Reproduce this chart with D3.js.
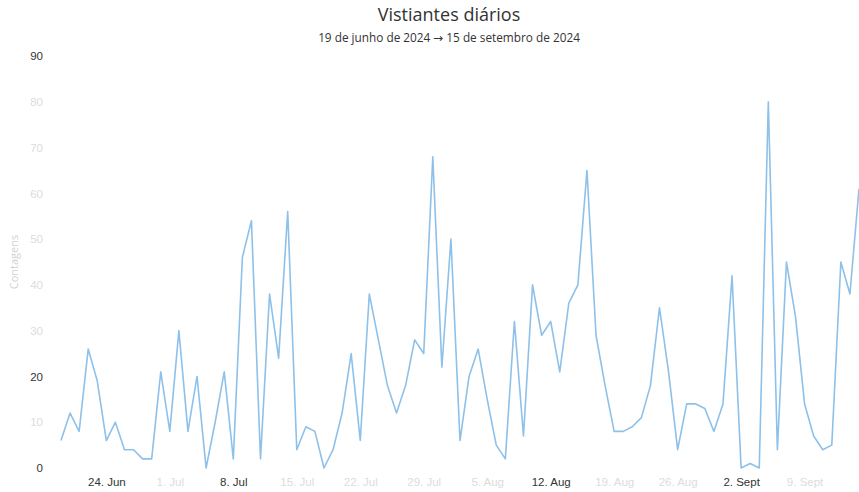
<!DOCTYPE html>
<html>
<head>
<meta charset="utf-8">
<script src="https://cdn.jsdelivr.net/npm/d3@7"></script>
<style>
  body { margin: 0; background: #fff; }
  svg { display: block; font-family: "Open Sans", "DejaVu Sans", sans-serif; }
</style>
</head>
<body>
<svg id="chart" width="859" height="492"></svg>
<script>
// daily visitor counts, 19 Jun 2024 .. 15 Sep 2024
const START_DATE = "2024-06-19";
const visits = [
  6, 12, 8, 26, 19, 6, 10, 4, 4, 2,
  2, 21, 8, 30, 8, 20, 0, 10, 21, 2,
  46, 54, 2, 38, 24, 56, 4, 9, 8, 0,
  4, 12, 25, 6, 38, 28, 18, 12, 18, 28,
  25, 68, 22, 50, 6, 20, 26, 15, 5, 2,
  32, 7, 40, 29, 32, 21, 36, 40, 65, 29,
  18, 8, 8, 9, 11, 18, 35, 21, 4, 14,
  14, 13, 8, 14, 42, 0, 1, 0, 80, 4,
  45, 33, 14, 7, 4, 5, 45, 38, 61
];

const xTickDates = ["2024-06-24", "2024-07-01", "2024-07-08", "2024-07-15", "2024-07-22", "2024-07-29",
  "2024-08-05", "2024-08-12", "2024-08-19", "2024-08-26", "2024-09-02", "2024-09-09"];
const xTickLabels = ["24. Jun", "1. Jul", "8. Jul", "15. Jul", "22. Jul", "29. Jul",
  "5. Aug", "12. Aug", "19. Aug", "26. Aug", "2. Sept", "9. Sept"];
const xStrong = ["24. Jun", "8. Jul", "12. Aug", "2. Sept"];

const yTicks = [0, 10, 20, 30, 40, 50, 60, 70, 80, 90];
const yStrong = [0, 20, 90];

const TITLE = "Vistiantes diários";
const SUBTITLE = "19 de junho de 2024 → 15 de setembro de 2024";
const Y_TITLE = "Contagens";

const PLOT = { left: 61, right: 859, top: 56, bottom: 468 };
const DARK = "#333333";
const FAINT = "#dcdcdc";

const start = d3.utcParse("%Y-%m-%d")(START_DATE);
const data = visits.map((v, i) => ({ date: d3.utcDay.offset(start, i), value: v }));

const svg = d3.select("#chart");

const x = d3.scaleUtc()
  .domain([data[0].date, data[data.length - 1].date])
  .range([PLOT.left, PLOT.right]);

const y = d3.scaleLinear()
  .domain([0, 90])
  .range([PLOT.bottom, PLOT.top]);

// titles
svg.append("text")
  .attr("x", 449).attr("y", 21)
  .attr("text-anchor", "middle")
  .attr("font-size", 18)
  .attr("font-weight", 500)
  .attr("fill", DARK)
  .text(TITLE);

svg.append("text")
  .attr("x", 449).attr("y", 42)
  .attr("text-anchor", "middle")
  .attr("font-size", 11.8)
  .attr("fill", DARK)
  .text(SUBTITLE);

// y axis
const yAxis = d3.axisLeft(y).tickValues(yTicks).tickSize(0).tickPadding(0);
const gy = svg.append("g")
  .attr("transform", `translate(43,0)`)
  .call(yAxis);
gy.select(".domain").remove();
gy.selectAll("text")
  .attr("font-size", 11.5)
  .attr("font-family", "inherit")
  .attr("fill", (d) => yStrong.includes(d) ? DARK : FAINT);

svg.append("text")
  .attr("transform", `translate(18,${(PLOT.top + PLOT.bottom) / 2}) rotate(-90)`)
  .attr("text-anchor", "middle")
  .attr("font-size", 11)
  .attr("fill", "#d2d2d2")
  .text(Y_TITLE);

// x axis
const parse = d3.utcParse("%Y-%m-%d");
const tickDates = xTickDates.map(parse);
const xAxis = d3.axisBottom(x)
  .tickValues(tickDates)
  .tickFormat((d, i) => xTickLabels[i])
  .tickSize(0)
  .tickPadding(0);
const gx = svg.append("g")
  .attr("transform", `translate(0,478)`)
  .call(xAxis);
gx.select(".domain").remove();
gx.selectAll("text")
  .attr("font-size", 11.5)
  .attr("font-family", "inherit")
  .attr("fill", (d, i) => xStrong.includes(xTickLabels[i]) ? DARK : FAINT);

// line
const line = d3.line()
  .x((d) => x(d.date))
  .y((d) => y(d.value));

svg.append("path")
  .datum(data)
  .attr("fill", "none")
  .attr("stroke", "#8ec1ea")
  .attr("stroke-width", 1.6)
  .attr("stroke-linejoin", "round")
  .attr("d", line);
</script>
</body>
</html>
